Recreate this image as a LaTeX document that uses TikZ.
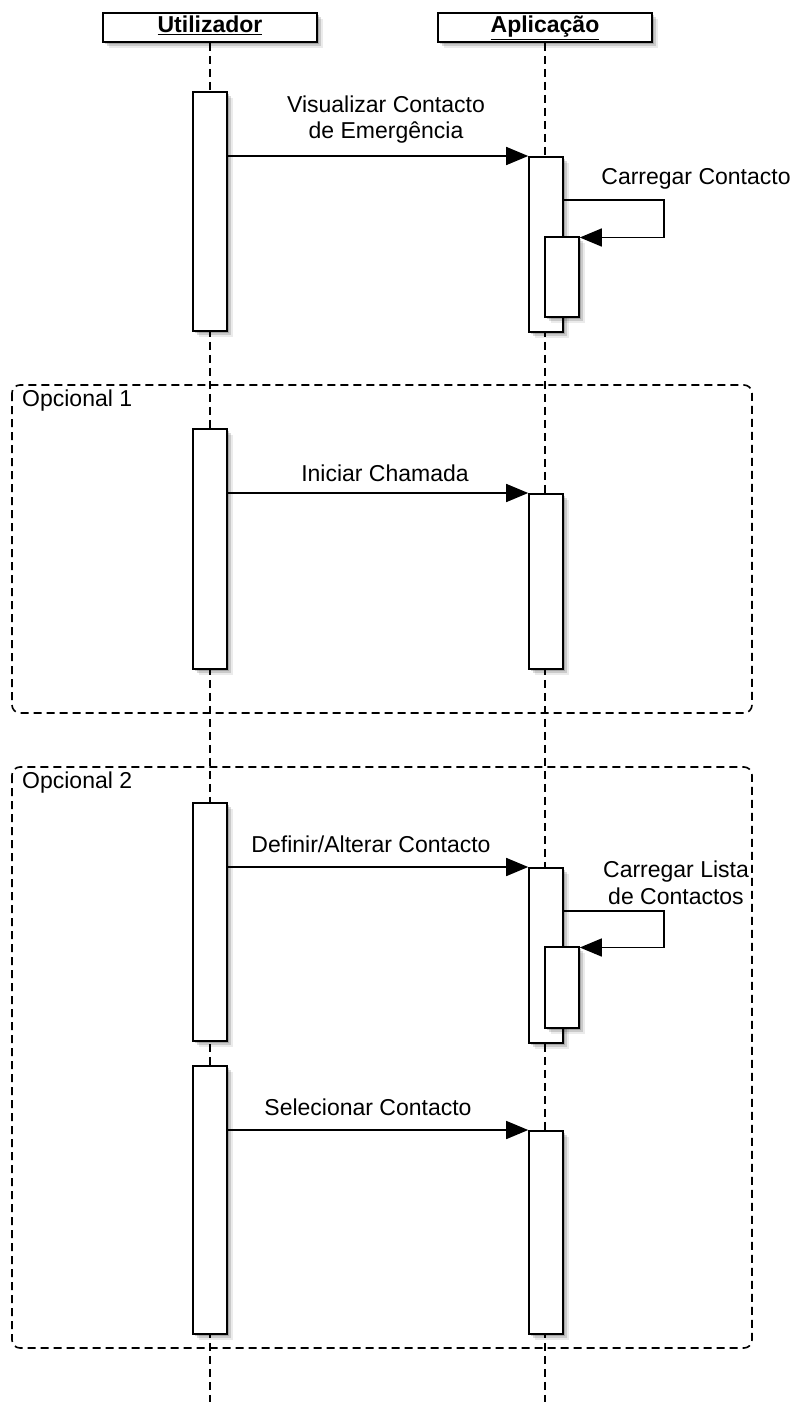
\documentclass[tikz,border=0pt]{standalone}
\usepackage{fontspec}
\setmainfont{Liberation Sans}
\usetikzlibrary{arrows.meta, positioning, calc, shadows}

\begin{document}
\begin{tikzpicture}[x=1pt, y=-1pt]
    \tikzstyle{softshadow} = [general shadow={shadow xshift=2pt, shadow yshift=-2pt, fill=black, opacity=0.18}, general shadow={shadow xshift=4pt, shadow yshift=-4pt, fill=black, opacity=0.14}, general shadow={shadow xshift=6pt, shadow yshift=-6pt, fill=black, opacity=0.08}]
    \tikzstyle{actor} = [rectangle, draw, fill=white, line width=1.6pt, minimum width=214pt, minimum height=29pt, inner sep=0pt, text height=16pt, text depth=5pt, font=\fontsize{23}{27}\selectfont\bfseries, softshadow]
    \tikzstyle{bar} = [rectangle, draw, fill=white, line width=1.6pt, minimum width=34pt, inner sep=0pt, anchor=north, softshadow]
    \tikzstyle{lifeline} = [line width=1.6pt, dash pattern=on 8pt off 5pt]
    \tikzstyle{frame} = [line width=1.6pt, dash pattern=on 8pt off 5pt, rounded corners=8pt]
    \tikzstyle{msg} = [line width=1.5pt, -{Triangle[length=22pt, width=18pt]}]
    \tikzstyle{lbl} = [font=\fontsize{23}{26.5}\selectfont, align=center, inner sep=0pt, anchor=base]

    \useasboundingbox (0,0) rectangle (799,1402);

    % lifelines
    \node[actor] (user) at (210,27.5) {\underline{Utilizador}};
    \node[actor] (app) at (545,27.5) {\underline{Aplicação}};
    \coordinate (userend) at (210,1402);
    \coordinate (append) at (545,1402);
    \draw[lifeline] (user.south) -- (userend);
    \draw[lifeline] (app.south) -- (append);

    % optional fragments
    \draw[frame] (12,385) rectangle (752,713);
    \node[lbl, anchor=base west] (opt1) at (22,406) {Opcional 1};
    \draw[frame] (12,767) rectangle (752,1348);
    \node[lbl, anchor=base west] (opt2) at (22,788) {Opcional 2};

    % activations
    \node[bar, minimum height=239pt] (u1) at (210,91) {};
    \node[bar, minimum height=175pt] (a1) at (546,156) {};
    \node[bar, minimum height=80pt] (s1) at (562,236) {};
    \node[bar, minimum height=240pt] (u2) at (210,428) {};
    \node[bar, minimum height=175pt] (a2) at (546,493) {};
    \node[bar, minimum height=238pt] (u3) at (210,802) {};
    \node[bar, minimum height=175pt] (a3) at (546,867) {};
    \node[bar, minimum height=81pt] (s2) at (562,946) {};
    \node[bar, minimum height=268pt] (u4) at (210,1065) {};
    \node[bar, minimum height=203pt] (a4) at (546,1130) {};

    % messages
    \node[lbl] (m1) at (386,139) {Visualizar Contacto\\de Emergência};
    \draw[msg] (u1.east |- a1.north) -- (a1.north west);
    \node[lbl] (m2) at (696,184) {Carregar Contacto};
    \draw[msg] ($(a1.east |- s1.north)+(0,-36)$) -- ++(100,0) |- ([yshift=-1.5pt]s1.north east);

    \node[lbl] (m3) at (385,481) {Iniciar Chamada};
    \draw[msg] (u2.east |- a2.north) -- (a2.north west);

    \node[lbl] (m4) at (371,852) {Definir/Alterar Contacto};
    \draw[msg] (u3.east |- a3.north) -- (a3.north west);
    \node[lbl] (m5) at (676,904) {Carregar Lista\\de Contactos};
    \draw[msg] ($(a3.east |- s2.north)+(0,-35)$) -- ++(100,0) |- ([yshift=-1.5pt]s2.north east);

    \node[lbl] (m6) at (368,1115) {Selecionar Contacto};
    \draw[msg] (u4.east |- a4.north) -- (a4.north west);
\end{tikzpicture}
\end{document}
